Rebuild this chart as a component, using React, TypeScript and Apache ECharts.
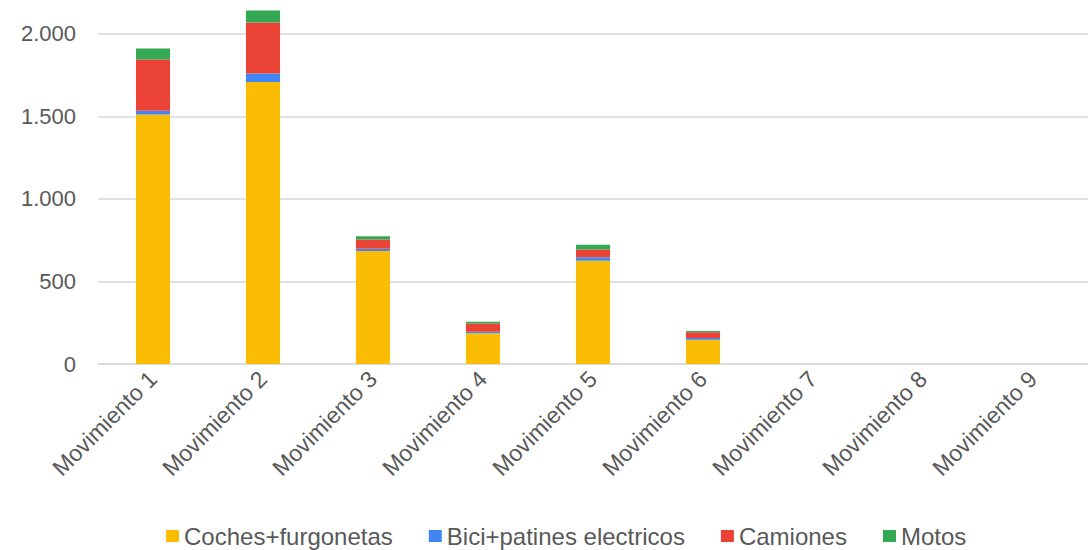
import React, { useEffect, useRef } from "react";
import * as echarts from "echarts";

const categories = ["Movimiento 1", "Movimiento 2", "Movimiento 3", "Movimiento 4", "Movimiento 5", "Movimiento 6", "Movimiento 7", "Movimiento 8", "Movimiento 9"];
const coches = [1512, 1708, 684, 187, 625, 147, 0, 0, 0];
const bici = [23, 52, 14, 8, 22, 10, 0, 0, 0];
const camiones = [310, 309, 56, 51, 47, 35, 0, 0, 0];
const motos = [67, 73, 20, 10, 28, 8, 0, 0, 0];
const seriesNames = ["Coches+furgonetas", "Bici+patines electricos", "Camiones", "Motos"];
const colors = ["#FBBC04", "#4285F4", "#EA4335", "#34A853"];

export default function App() {
  const ref = useRef<HTMLDivElement>(null);
  useEffect(() => {
    const chart = echarts.init(ref.current!, null, { renderer: "svg" });
    const data = [coches, bici, camiones, motos];
    chart.setOption({
      animation: false,
      color: colors,
      textStyle: { fontFamily: "Liberation Sans, Arial, sans-serif" },
      grid: { left: 98, right: 0, top: -48.6, bottom: 186, outerBoundsMode: "none", containLabel: false },
      legend: {
        top: 519,
        left: 161,
        icon: "rect",
        itemWidth: 13,
        itemHeight: 12,
        itemGap: 36,
        textStyle: { fontSize: 24, color: "#595959" },
        data: seriesNames,
      },
      xAxis: {
        type: "category",
        data: categories,
        axisLine: { lineStyle: { color: "#d9d9d9", width: 1.5 } },
        axisTick: { show: false },
        axisLabel: { rotate: 45, fontSize: 23, color: "#595959", margin: 11, interval: 0 },
      },
      yAxis: {
        type: "value",
        min: 0,
        max: 2500,
        interval: 500,
        axisLine: { show: false },
        axisTick: { show: false },
        splitLine: { lineStyle: { color: "#d9d9d9", width: 1.5 } },
        axisLabel: {
          fontSize: 22,
          color: "#595959",
          margin: 22,
          formatter: (v: number) => (v > 2000 ? "" : v.toLocaleString("de-DE")),
        },
      },
      series: data.map((d, i) => ({
        name: seriesNames[i],
        type: "bar",
        stack: "total",
        barWidth: "31%",
        data: d,
        itemStyle: { color: colors[i] },
      })),
    });
    return () => chart.dispose();
  }, []);
  return (
    <div style={{ position: "absolute", left: 0, top: 0 }}>
      <div ref={ref} style={{ width: 1088, height: 550 }} />
    </div>
  );
}
